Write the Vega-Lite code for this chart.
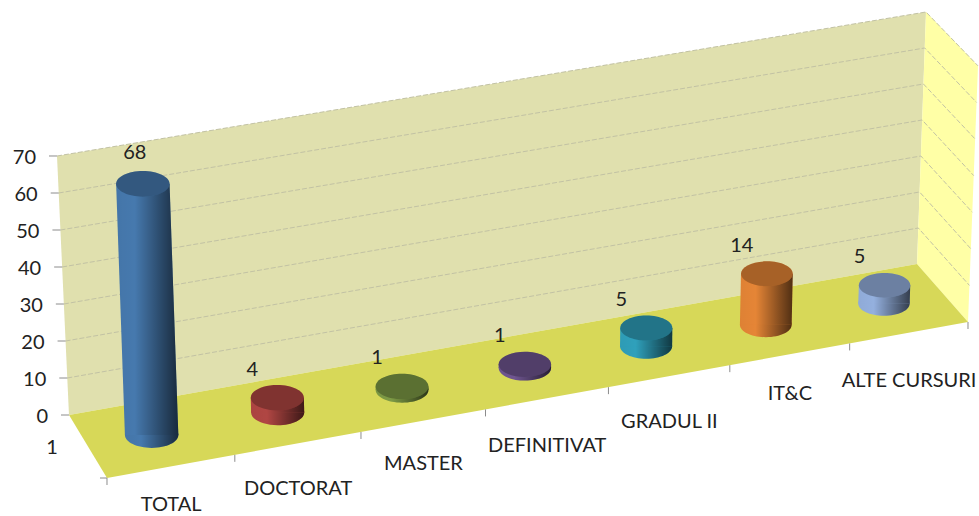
{
"$schema":"https://vega.github.io/schema/vega-lite/v6.json",
"width":979,"height":516,"padding":0,"autosize":{"type":"none"},"background":"white",
"config":{"view":{"stroke":null}},
"data":{"values":[
{"kind":"bar","label":"TOTAL","u":0.5,"d":0.5,"v":68},
{"kind":"bar","label":"DOCTORAT","u":1.5,"d":0.5,"v":4},
{"kind":"bar","label":"MASTER","u":2.5,"d":0.5,"v":1},
{"kind":"bar","label":"DEFINITIVAT","u":3.5,"d":0.5,"v":1},
{"kind":"bar","label":"GRADUL II","u":4.5,"d":0.5,"v":5},
{"kind":"bar","label":"IT&C","u":5.5,"d":0.5,"v":14},
{"kind":"bar","label":"ALTE CURSURI","u":6.5,"d":0.5,"v":5},
{"kind":"xlabel","label":"TOTAL","u":0.5,"d":1,"v":0},
{"kind":"xlabel","label":"DOCTORAT","u":1.5,"d":1,"v":0},
{"kind":"xlabel","label":"MASTER","u":2.5,"d":1,"v":0},
{"kind":"xlabel","label":"DEFINITIVAT","u":3.5,"d":1,"v":0},
{"kind":"xlabel","label":"GRADUL II","u":4.5,"d":1,"v":0},
{"kind":"xlabel","label":"IT&C","u":5.5,"d":1,"v":0},
{"kind":"xlabel","label":"ALTE CURSURI","u":6.5,"d":1,"v":0},
{"kind":"wall","seq":0,"u":0,"d":0,"v":0},{"kind":"wall","seq":1,"u":0,"d":0,"v":70},{"kind":"wall","seq":2,"u":7,"d":0,"v":70},{"kind":"wall","seq":3,"u":7,"d":0,"v":0},
{"kind":"floor","seq":0,"u":0,"d":0,"v":0},{"kind":"floor","seq":1,"u":7,"d":0,"v":0},{"kind":"floor","seq":2,"u":7,"d":1,"v":0},{"kind":"floor","seq":3,"u":0,"d":1,"v":0},
{"kind":"side","seq":0,"u":7,"d":0,"v":0},{"kind":"side","seq":1,"u":7,"d":0,"v":70},{"kind":"side","seq":2,"u":7,"d":1,"v":70},{"kind":"side","seq":3,"u":7,"d":1,"v":0},
{"kind":"grid","g":10,"seq":0,"u":0,"d":0,"v":10},{"kind":"grid","g":10,"seq":1,"u":7,"d":0,"v":10},{"kind":"grid","g":10,"seq":2,"u":7,"d":1,"v":10},
{"kind":"grid","g":20,"seq":0,"u":0,"d":0,"v":20},{"kind":"grid","g":20,"seq":1,"u":7,"d":0,"v":20},{"kind":"grid","g":20,"seq":2,"u":7,"d":1,"v":20},
{"kind":"grid","g":30,"seq":0,"u":0,"d":0,"v":30},{"kind":"grid","g":30,"seq":1,"u":7,"d":0,"v":30},{"kind":"grid","g":30,"seq":2,"u":7,"d":1,"v":30},
{"kind":"grid","g":40,"seq":0,"u":0,"d":0,"v":40},{"kind":"grid","g":40,"seq":1,"u":7,"d":0,"v":40},{"kind":"grid","g":40,"seq":2,"u":7,"d":1,"v":40},
{"kind":"grid","g":50,"seq":0,"u":0,"d":0,"v":50},{"kind":"grid","g":50,"seq":1,"u":7,"d":0,"v":50},{"kind":"grid","g":50,"seq":2,"u":7,"d":1,"v":50},
{"kind":"grid","g":60,"seq":0,"u":0,"d":0,"v":60},{"kind":"grid","g":60,"seq":1,"u":7,"d":0,"v":60},{"kind":"grid","g":60,"seq":2,"u":7,"d":1,"v":60},
{"kind":"grid","g":70,"seq":0,"u":0,"d":0,"v":70},{"kind":"grid","g":70,"seq":1,"u":7,"d":0,"v":70},{"kind":"grid","g":70,"seq":2,"u":7,"d":1,"v":70},
{"kind":"ytick","label":"0","u":0,"d":0,"v":0},{"kind":"ytick","label":"10","u":0,"d":0,"v":10},{"kind":"ytick","label":"20","u":0,"d":0,"v":20},{"kind":"ytick","label":"30","u":0,"d":0,"v":30},{"kind":"ytick","label":"40","u":0,"d":0,"v":40},{"kind":"ytick","label":"50","u":0,"d":0,"v":50},{"kind":"ytick","label":"60","u":0,"d":0,"v":60},{"kind":"ytick","label":"70","u":0,"d":0,"v":70},
{"kind":"xtick","u":0,"d":1,"v":0},{"kind":"xtick","u":1,"d":1,"v":0},{"kind":"xtick","u":2,"d":1,"v":0},{"kind":"xtick","u":3,"d":1,"v":0},{"kind":"xtick","u":4,"d":1,"v":0},{"kind":"xtick","u":5,"d":1,"v":0},{"kind":"xtick","u":6,"d":1,"v":0},{"kind":"xtick","u":7,"d":1,"v":0},
{"kind":"depth","label":"1","u":0,"d":1,"v":0}
]},
"transform":[
{"calculate":"(datum.u/7)*1.046/(1+0.046*datum.u/7)","as":"t"},
{"calculate":"((1-datum.d)*(69+848*datum.t)+datum.d*(107+861*datum.t))/122","as":"sx0"},
{"calculate":"((1-datum.d)*151*datum.t+datum.d*(156*datum.t-63))/3.7","as":"sy0"},
{"calculate":"datum.sx0+datum.v*((1-datum.d)*(-0.1714+0.3*datum.t)+datum.d*(-0.13+0.273*datum.t))/122","as":"sx"},
{"calculate":"datum.sy0+datum.v*(1-0.027*datum.t+0.016*datum.t*datum.d)","as":"sy"},
{"calculate":"26.8-0.17*datum.u","as":"r"},
{"calculate":"pow(2*datum.r,2)","as":"capSize"}
],
"encoding":{
"x":{"field":"sx","type":"quantitative","axis":null,"scale":{"domain":[0,8.0246],"nice":false,"zero":false}},
"y":{"field":"sy","type":"quantitative","axis":null,"scale":{"domain":[-27.297,112.162],"nice":false,"zero":false}}
},
"layer":[
{"transform":[{"filter":"datum.kind==='wall'"}],"mark":{"type":"line","fill":"#e0e0ae","strokeWidth":0},"encoding":{"order":{"field":"seq"}}},
{"transform":[{"filter":"datum.kind==='side'"}],"mark":{"type":"line","fill":"#ffffa6","strokeWidth":0},"encoding":{"order":{"field":"seq"}}},
{"transform":[{"filter":"datum.kind==='floor'"}],"mark":{"type":"line","fill":"#d7d858","strokeWidth":0},"encoding":{"order":{"field":"seq"}}},
{"transform":[{"filter":"datum.kind==='grid'"}],"mark":{"type":"line","stroke":"#c2c2a4","strokeWidth":1,"strokeDash":[5,2]},"encoding":{"order":{"field":"seq"},"detail":{"field":"g"}}},
{"transform":[{"filter":"datum.kind==='ytick'"},{"calculate":"datum.sx-8/122","as":"xe"}],"mark":{"type":"rule","stroke":"#8c8c8c","strokeWidth":1},"encoding":{"x2":{"field":"xe"}}},
{"transform":[{"filter":"datum.kind==='depth'"},{"calculate":"datum.sx-7/122","as":"xe"}],"mark":{"type":"rule","stroke":"#8c8c8c","strokeWidth":1},"encoding":{"x2":{"field":"xe"}}},
{"transform":[{"filter":"datum.kind==='xtick'"},{"calculate":"datum.sy-7/3.7","as":"ye"}],"mark":{"type":"rule","stroke":"#8c8c8c","strokeWidth":1},"encoding":{"y2":{"field":"ye"}}},
{"transform":[{"filter":"datum.kind==='bar'"}],"mark":{"type":"point","filled":true,"opacity":1,"shape":"M-1,0A1,0.48 0 1 0 1,0A1,0.48 0 1 0 -1,0Z"},
"encoding":{"x":{"field":"sx0","type":"quantitative"},"y":{"field":"sy0","type":"quantitative"},"size":{"field":"capSize","type":"quantitative","scale":null},
"color":{"field":"label","type":"nominal","legend":null,"scale":{"domain":["TOTAL","DOCTORAT","MASTER","DEFINITIVAT","GRADUL II","IT&C","ALTE CURSURI"],"range":["#4679ae","#b04643","#7d9a45","#6f5590","#2fa0bb","#e58536","#94b0de"]}}}},
{"transform":[{"filter":"datum.kind==='bar'"}],"mark":{"type":"point","filled":true,"opacity":1,"shape":"M-1,0A1,0.48 0 1 0 1,0A1,0.48 0 1 0 -1,0Z",
"color":{"gradient":"linear","x1":0,"y1":0,"x2":1,"y2":0,"stops":[{"offset":0,"color":"rgba(0,0,0,0.03)"},{"offset":0.3,"color":"rgba(0,0,0,0)"},{"offset":0.6,"color":"rgba(0,0,0,0.28)"},{"offset":1,"color":"rgba(0,0,0,0.65)"}]}},
"encoding":{"x":{"field":"sx0","type":"quantitative"},"y":{"field":"sy0","type":"quantitative"},"size":{"field":"capSize","type":"quantitative","scale":null}}},
{"transform":[{"filter":"datum.kind==='bar'"},{"fold":["sy0","sy"],"as":["end","h"]},{"calculate":"(datum.end==='sy'?datum.sx:datum.sx0)-datum.r/122","as":"xl"},{"calculate":"(datum.end==='sy'?datum.sx:datum.sx0)+datum.r/122","as":"xr"}],
"mark":{"type":"area","orient":"horizontal","opacity":1},
"encoding":{"x":{"field":"xl","type":"quantitative"},"x2":{"field":"xr"},"y":{"field":"h","type":"quantitative"},"detail":{"field":"label"},"color":{"field":"label","type":"nominal","legend":null}}},
{"transform":[{"filter":"datum.kind==='bar'"},{"fold":["sy0","sy"],"as":["end","h"]},{"calculate":"(datum.end==='sy'?datum.sx:datum.sx0)-datum.r/122","as":"xl"},{"calculate":"(datum.end==='sy'?datum.sx:datum.sx0)+datum.r/122","as":"xr"}],
"mark":{"type":"area","orient":"horizontal","opacity":1,
"color":{"gradient":"linear","x1":0,"y1":0,"x2":1,"y2":0,"stops":[{"offset":0,"color":"rgba(0,0,0,0.03)"},{"offset":0.3,"color":"rgba(0,0,0,0)"},{"offset":0.6,"color":"rgba(0,0,0,0.28)"},{"offset":1,"color":"rgba(0,0,0,0.65)"}]}},
"encoding":{"x":{"field":"xl","type":"quantitative"},"x2":{"field":"xr"},"y":{"field":"h","type":"quantitative"},"detail":{"field":"label"}}},
{"transform":[{"filter":"datum.kind==='bar'"}],"mark":{"type":"point","filled":true,"opacity":1,"shape":"M-1,0A1,0.48 0 1 0 1,0A1,0.48 0 1 0 -1,0Z"},
"encoding":{"size":{"field":"capSize","type":"quantitative","scale":null},"color":{"field":"label","type":"nominal","legend":null}}},
{"transform":[{"filter":"datum.kind==='bar'"}],"mark":{"type":"point","filled":true,"opacity":0.27,"color":"#000000","shape":"M-1,0A1,0.48 0 1 0 1,0A1,0.48 0 1 0 -1,0Z"},
"encoding":{"size":{"field":"capSize","type":"quantitative","scale":null}}},
{"transform":[{"filter":"datum.kind==='bar' && datum.v<50"}],"mark":{"type":"text","font":"Lato","fontSize":20,"fill":"#222222","dx":-25,"dy":-28},"encoding":{"text":{"field":"v","type":"quantitative"}}},
{"transform":[{"filter":"datum.kind==='bar' && datum.v>=50"}],"mark":{"type":"text","font":"Lato","fontSize":20,"fill":"#222222","dx":-8,"dy":-31},"encoding":{"text":{"field":"v","type":"quantitative"}}},
{"transform":[{"filter":"datum.kind==='xlabel' && datum.label==='TOTAL'"}],"mark":{"type":"text","font":"Lato","fontSize":20,"fill":"#222222","dy":39},"encoding":{"text":{"field":"label"}}},
{"transform":[{"filter":"datum.kind==='xlabel' && datum.label==='MASTER'"}],"mark":{"type":"text","font":"Lato","fontSize":20,"fill":"#222222","dy":43},"encoding":{"text":{"field":"label"}}},
{"transform":[{"filter":"datum.kind==='xlabel' && (datum.label==='DOCTORAT' || datum.label==='GRADUL II')"}],"mark":{"type":"text","font":"Lato","fontSize":20,"fill":"#222222","dy":46},"encoding":{"text":{"field":"label"}}},
{"transform":[{"filter":"datum.kind==='xlabel' && (datum.label==='DEFINITIVAT' || datum.label==='ALTE CURSURI')"}],"mark":{"type":"text","font":"Lato","fontSize":20,"fill":"#222222","dy":48},"encoding":{"text":{"field":"label"}}},
{"transform":[{"filter":"datum.kind==='xlabel' && datum.label==='IT&C'"}],"mark":{"type":"text","font":"Lato","fontSize":20,"fill":"#222222","dy":40},"encoding":{"text":{"field":"label"}}},
{"transform":[{"filter":"datum.kind==='ytick'"}],"mark":{"type":"text","font":"Lato","fontSize":20,"fill":"#222222","align":"right","dx":-21,"dy":2},"encoding":{"text":{"field":"label"}}},
{"transform":[{"filter":"datum.kind==='depth'"}],"mark":{"type":"text","font":"Lato","fontSize":20,"fill":"#222222","dx":-55,"dy":-30},"encoding":{"text":{"field":"label"}}}
]
}
